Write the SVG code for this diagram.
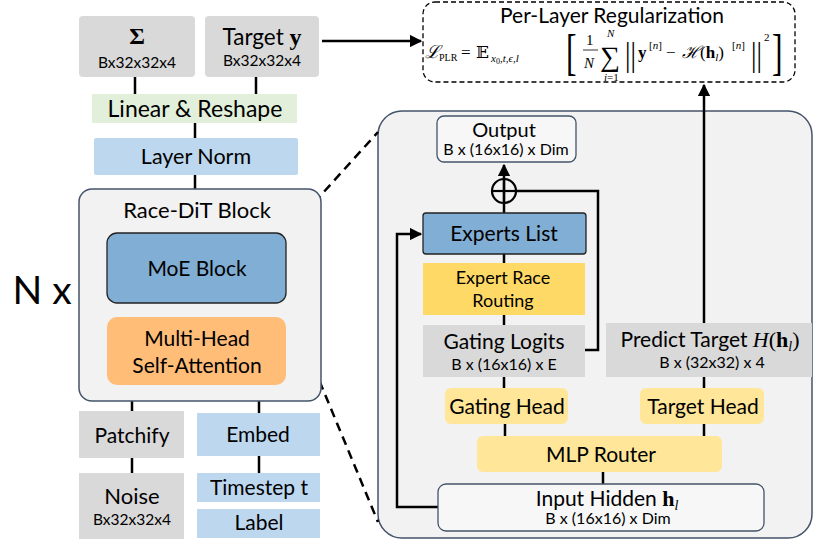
<svg xmlns="http://www.w3.org/2000/svg" width="814" height="544" viewBox="0 0 814 544">
<style>
text{font-family:Lato,"Open Sans","DejaVu Sans",sans-serif;fill:#000;text-anchor:middle}
.m{font-family:"Liberation Serif","DejaVu Serif",serif}
.f text{text-anchor:start;font-family:"Liberation Serif","DejaVu Serif",serif}
.t21{font-size:21px}
.s16{font-size:16px}
.s15{font-size:15.5px}
.gray{fill:#d9d9d9}
.blue{fill:#bdd7ee}
.yel{fill:#ffd966}
.ly{fill:#ffe699}
.ln{stroke:#000;stroke-width:2.5;fill:none}
.dash{stroke:#000;stroke-width:2.5;fill:none;stroke-dasharray:9 6}
</style>
<defs>
<marker id="ah" viewBox="0 0 10 10" refX="9" refY="5" markerWidth="5" markerHeight="5" orient="auto"><path d="M0,0 L10,5 L0,10 z" fill="#000"/></marker>
</defs>

<g id="moe-panel">
<rect x="378" y="111" width="434" height="427" rx="24" fill="#f2f2f2" stroke="#44546a" stroke-width="1.5"/>
</g>

<g id="connectors">
<line class="ln" x1="135" y1="77" x2="135" y2="94"/>
<line class="ln" x1="256" y1="77" x2="256" y2="94"/>
<line class="ln" x1="195" y1="123" x2="195" y2="138"/>
<line class="ln" x1="195" y1="175" x2="195" y2="189"/>
<line class="ln" x1="132" y1="401" x2="132" y2="411"/>
<line class="ln" x1="259" y1="401" x2="259" y2="413"/>
<line class="ln" x1="132" y1="458" x2="132" y2="473"/>
<line class="ln" x1="259" y1="456" x2="259" y2="473"/>
<line class="ln" x1="322" y1="41" x2="421" y2="41" marker-end="url(#ah)"/>
<line class="dash" x1="284" y1="236" x2="378" y2="132"/>
<line class="dash" x1="285" y1="298" x2="378" y2="522"/>
<line class="ln" x1="504" y1="213" x2="504" y2="165" marker-end="url(#ah)"/>
<polyline class="ln" points="584,350 598,350 598,191 516,191"/>
<polyline class="ln" points="438,507 397,507 397,234 421,234" marker-end="url(#ah)"/>
<line class="ln" x1="504" y1="254" x2="504" y2="263"/>
<line class="ln" x1="504" y1="315" x2="504" y2="325"/>
<line class="ln" x1="504" y1="377" x2="504" y2="388"/>
<line class="ln" x1="505" y1="424" x2="505" y2="436"/>
<line class="ln" x1="704" y1="424" x2="704" y2="436"/>
<line class="ln" x1="704" y1="377" x2="704" y2="388"/>
<line class="ln" x1="603" y1="472" x2="603" y2="484"/>
<line class="ln" x1="704" y1="323" x2="704" y2="85" marker-end="url(#ah)"/>
</g>

<g id="sigma">
<rect class="gray" x="79" y="16" width="116" height="61" rx="4"/>
<text class="m" x="137" y="44" font-size="24" font-weight="bold">Σ</text>
<text class="s15" x="137" y="68">Bx32x32x4</text>
</g>
<g id="target-y">
<rect class="gray" x="205" y="16" width="114" height="61" rx="4"/>
<text x="262" y="45" font-size="22.5">Target <tspan class="m" font-weight="bold" font-size="24">y</tspan></text>
<text class="s15" x="262" y="66">Bx32x32x4</text>
</g>
<g id="linear-reshape">
<rect x="92" y="94" width="205" height="29" fill="#e2efda"/>
<text x="195" y="117" font-size="23">Linear &amp; Reshape</text>
</g>
<g id="layer-norm">
<rect class="blue" x="94" y="138" width="204" height="37" rx="2"/>
<text x="196" y="164" font-size="21.5">Layer Norm</text>
</g>

<g id="race-dit-block">
<rect x="79" y="189" width="242" height="212" rx="13" fill="#f2f2f2" stroke="#44546a" stroke-width="1.5"/>
<text x="197" y="218" font-size="22">Race-DiT Block</text>
</g>
<g id="moe-block">
<rect x="107" y="233" width="179" height="70" rx="10" fill="#80aed4" stroke="#222" stroke-width="1.3"/>
<text class="t21" x="197" y="276">MoE Block</text>
</g>
<g id="mhsa">
<rect x="107" y="317" width="179" height="68" rx="10" fill="#ffbd78"/>
<text class="t21" x="197" y="346">Multi-Head</text>
<text class="t21" x="197" y="373">Self-Attention</text>
</g>
<g id="nx">
<text x="42" y="304" font-size="39">N x</text>
</g>

<g id="patchify">
<rect class="gray" x="79" y="411" width="105" height="47"/>
<text class="t21" x="132" y="443">Patchify</text>
</g>
<g id="embed">
<rect class="blue" x="197" y="413" width="123" height="43"/>
<text class="t21" x="258" y="442">Embed</text>
</g>
<g id="noise">
<rect class="gray" x="79" y="473" width="105" height="66"/>
<text x="132" y="504" font-size="22">Noise</text>
<text class="s15" x="132" y="525">Bx32x32x4</text>
</g>
<g id="timestep">
<rect class="blue" x="197" y="473" width="123" height="29"/>
<text class="t21" x="259" y="495">Timestep t</text>
</g>
<g id="label">
<rect class="blue" x="197" y="509" width="123" height="29"/>
<text class="t21" x="259" y="530">Label</text>
</g>

<g id="per-layer-reg">
<rect x="423" y="2" width="372" height="80" rx="12" fill="#fff" stroke="#000" stroke-width="1.3" stroke-dasharray="5 3"/>
<text x="612" y="23" font-size="21">Per-Layer Regularization</text>
<g class="f" font-size="17">
<text x="425" y="58" font-style="italic" font-size="18">ℒ</text>
<text x="439" y="61" font-size="10">PLR</text>
<text x="461" y="58">=</text>
<text x="476" y="58">𝔼</text>
<text x="491" y="62" font-size="11" font-style="italic">x<tspan font-size="8" dy="2" font-style="normal">0</tspan><tspan dy="-2">,t,ϵ,l</tspan></text>
<g transform="translate(566,0) scale(0.62,1)"><text x="0" y="69" font-size="51">[</text></g>
<text x="586" y="45" font-size="15">1</text>
<line x1="583" y1="50" x2="598" y2="50" stroke="#000" stroke-width="0.8"/>
<text x="584" y="68" font-size="15" font-style="italic">N</text>
<text x="600" y="66" font-size="28">∑</text>
<text x="607" y="37" font-size="11" font-style="italic">N</text>
<text x="604" y="81" font-size="11"><tspan font-style="italic">i</tspan>=1</text>
<g transform="translate(625,0) scale(0.8,1)"><text x="0" y="66" font-size="34">||</text></g>
<text x="638" y="58" font-weight="bold">y</text>
<text x="649" y="49" font-size="11">[<tspan font-style="italic">n</tspan>]</text>
<text x="666" y="58">−</text>
<text x="682" y="58" font-style="italic">ℋ</text>
<text x="700" y="58">(<tspan font-weight="bold">h</tspan><tspan font-size="11" font-style="italic" dy="3">l</tspan><tspan dy="-3">)</tspan></text>
<text x="732" y="49" font-size="11">[<tspan font-style="italic">n</tspan>]</text>
<g transform="translate(751,0) scale(0.8,1)"><text x="0" y="66" font-size="34">||</text></g>
<text x="764" y="41" font-size="11">2</text>
<g transform="translate(772,0) scale(0.62,1)"><text x="0" y="69" font-size="51">]</text></g>
</g>
</g>

<g id="output">
<rect x="437" y="116" width="139" height="46" rx="7" fill="#f7f7f7" stroke="#44546a" stroke-width="1.3"/>
<text x="504" y="137" font-size="20">Output</text>
<text class="s16" x="506" y="155">B x (16x16) x Dim</text>
</g>
<g id="add">
<circle cx="504" cy="191" r="12" fill="none" stroke="#000" stroke-width="2.2"/>
<line x1="492" y1="191" x2="516" y2="191" stroke="#000" stroke-width="2.2"/>
<line x1="504" y1="179" x2="504" y2="203" stroke="#000" stroke-width="2.2"/>
</g>
<g id="experts-list">
<rect x="423" y="213" width="163" height="41" rx="3" fill="#80aed4" stroke="#222" stroke-width="1.3"/>
<text class="t21" x="504" y="241">Experts List</text>
</g>
<g id="expert-race-routing">
<rect class="yel" x="423" y="263" width="162" height="52"/>
<text x="503" y="284" font-size="18">Expert Race</text>
<text x="503" y="307" font-size="18">Routing</text>
</g>
<g id="gating-logits">
<rect class="gray" x="423" y="325" width="162" height="52"/>
<text class="t21" x="504" y="349">Gating Logits</text>
<text class="s16" x="504" y="370">B x (16x16) x E</text>
</g>
<g id="predict-target">
<rect class="gray" x="606" y="323" width="206" height="54"/>
<text x="710" y="347" font-size="21">Predict Target <tspan class="m" font-style="italic" font-size="22">H</tspan><tspan class="m" font-size="22">(<tspan font-weight="bold">h</tspan><tspan font-style="italic" font-size="14" dy="4">l</tspan><tspan dy="-4">)</tspan></tspan></text>
<text class="s16" x="712" y="368">B x (32x32) x 4</text>
</g>
<g id="gating-head">
<rect class="ly" x="445" y="388" width="123" height="36" rx="6"/>
<text class="t21" x="507" y="414">Gating Head</text>
</g>
<g id="target-head">
<rect class="ly" x="640" y="388" width="124" height="36" rx="6"/>
<text class="t21" x="703" y="414">Target Head</text>
</g>
<g id="mlp-router">
<rect class="ly" x="477" y="436" width="245" height="36" rx="6"/>
<text class="t21" x="601" y="462">MLP Router</text>
</g>
<g id="input-hidden">
<rect x="438" y="484" width="326" height="47" rx="8" fill="#f7f7f7" stroke="#44546a" stroke-width="1.3"/>
<text class="t21" x="607" y="506">Input Hidden <tspan class="m" font-weight="bold" font-size="22">h</tspan><tspan class="m" font-style="italic" font-size="14" dy="4">l</tspan></text>
<text class="s16" x="608" y="524">B x (16x16) x Dim</text>
</g>
</svg>
